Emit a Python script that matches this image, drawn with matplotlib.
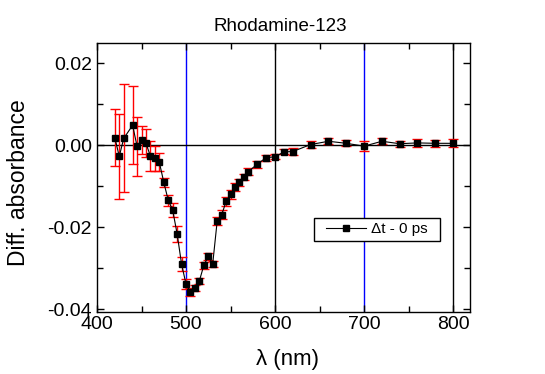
import matplotlib
matplotlib.use("Agg")
import matplotlib.pyplot as plt
from matplotlib.ticker import MultipleLocator, FormatStrFormatter
from matplotlib.patches import Rectangle

plt.rcParams['font.family'] = ['Liberation Sans', 'DejaVu Sans']

# wavelength (nm), differential absorbance and its error
wl = [420, 425, 430, 440, 445, 450, 455, 460, 465, 470,
      475, 480, 485, 490, 495, 500, 505, 510, 515, 520,
      525, 530, 535, 540, 545, 550, 555, 560, 565, 570,
      580, 590, 600, 610, 620, 640, 660, 680, 700, 720,
      740, 760, 780, 800]
dabs = [0.0019, -0.0027, 0.0017, 0.0049, -0.0002, 0.0013, 0.0005, -0.0026, -0.0032, -0.0041,
        -0.0090, -0.0134, -0.0158, -0.0216, -0.0290, -0.0339, -0.0358, -0.0348, -0.0331, -0.0293,
        -0.0271, -0.0289, -0.0185, -0.0170, -0.0137, -0.0120, -0.0102, -0.0090, -0.0077, -0.0064,
        -0.0046, -0.0030, -0.0028, -0.0016, -0.0015, 0.0002, 0.0010, 0.0005, -0.0002, 0.0010,
        0.0004, 0.0006, 0.0005, 0.0005]
err = [0.0069, 0.0104, 0.0132, 0.0095, 0.0072, 0.0034, 0.0034, 0.0036, 0.0030, 0.0022,
       0.0011, 0.0013, 0.0018, 0.0020, 0.0018, 0.0013, 0.0010, 0.0008, 0.0008, 0.0008,
       0.0008, 0.0007, 0.0009, 0.0011, 0.0010, 0.0010, 0.0009, 0.0009, 0.0008, 0.0008,
       0.0009, 0.0007, 0.0006, 0.0006, 0.0009, 0.0009, 0.0007, 0.0007, 0.0012, 0.0007,
       0.0007, 0.0010, 0.0009, 0.0010]

blue_lines = [500, 700]
black_lines = [600, 800]

fig = plt.figure(figsize=(5.45, 3.74), dpi=100)
ax = fig.add_axes([97 / 545, 1 - 312 / 374, (470 - 97) / 545, (312 - 43) / 374])

for v in blue_lines:
    ax.axvline(v, color='#0000ff', lw=1.0, zorder=1)
for v in black_lines:
    ax.axvline(v, color='black', lw=1.0, zorder=1)
ax.axhline(0, color='black', lw=1.0, zorder=1)

ax.errorbar(wl, dabs, yerr=err, fmt='none', ecolor='red', elinewidth=1.0,
            capsize=3.5, capthick=1.0, zorder=2)
ax.plot(wl, dabs, color='black', lw=0.8, marker='s', markersize=4.2,
        markerfacecolor='black', markeredgecolor='black', zorder=3,
        label='\u0394t - 0 ps')

ax.set_xlim(400, 819)
ax.set_ylim(-0.0407, 0.025)
ax.xaxis.set_major_locator(MultipleLocator(100))
ax.xaxis.set_minor_locator(MultipleLocator(50))
ax.yaxis.set_major_locator(MultipleLocator(0.02))
ax.yaxis.set_minor_locator(MultipleLocator(0.01))
ax.yaxis.set_major_formatter(FormatStrFormatter('%.2f'))
ax.tick_params(which='both', direction='in', top=True, right=True,
               labelsize=14, width=1.0)
ax.tick_params(axis='y', pad=3.6)
ax.tick_params(axis='x', pad=3)
ax.tick_params(which='major', length=5)
ax.tick_params(which='minor', length=4)
for s in ax.spines.values():
    s.set_linewidth(1.0)

ax.set_xlabel('\u03bb (nm)', fontsize=16)
ax.xaxis.set_label_coords(0.512, -0.1375)
ax.set_ylabel('Diff. absorbance', fontsize=16.5)
ax.yaxis.set_label_coords(-0.18, 0.48)
ax.text(0.49, 1 + (43 - 31) / 269, 'Rhodamine-123', transform=ax.transAxes,
        ha='center', va='baseline', fontsize=13.5)

# legend box drawn separately so its padding matches the original
ax.add_patch(Rectangle((0.582, 0.264), 0.3375, 0.085, transform=ax.transAxes,
                       facecolor='white', edgecolor='black', lw=1.0, zorder=4))
ax.legend(loc='center left', bbox_to_anchor=(0.615, 0.307), frameon=False,
          fontsize=11, handlelength=2.6, handletextpad=0.35, borderpad=0,
          borderaxespad=0).set_zorder(5)

fig.savefig('out.png', dpi=100)
